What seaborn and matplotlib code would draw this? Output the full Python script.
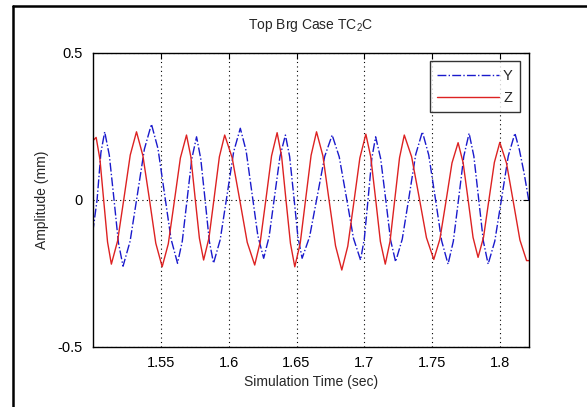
import matplotlib
matplotlib.use('Agg')
import matplotlib.pyplot as plt
from matplotlib.lines import Line2D
import pandas as pd
import seaborn as sns

# Z (red, solid)
z_time = [1.5000, 1.5025, 1.5053, 1.5081, 1.5109, 1.5137, 1.5183, 1.5230, 1.5276, 1.5322,
          1.5369, 1.5417, 1.5464, 1.5511, 1.5556, 1.5601, 1.5645, 1.5690, 1.5722, 1.5753,
          1.5785, 1.5816, 1.5855, 1.5894, 1.5932, 1.5971, 1.6026, 1.6082, 1.6137, 1.6192,
          1.6233, 1.6275, 1.6316, 1.6357, 1.6390, 1.6422, 1.6455, 1.6487, 1.6527, 1.6567,
          1.6607, 1.6647, 1.6694, 1.6740, 1.6787, 1.6833, 1.6877, 1.6922, 1.6966, 1.7010,
          1.7046, 1.7082, 1.7117, 1.7153, 1.7188, 1.7223, 1.7258, 1.7293, 1.7347, 1.7402,
          1.7456, 1.7510, 1.7555, 1.7600, 1.7644, 1.7689, 1.7726, 1.7763, 1.7799, 1.7836,
          1.7876, 1.7916, 1.7956, 1.7996, 1.8045, 1.8095, 1.8144, 1.8193, 1.8210]
z_amp = [0.200, 0.212, 0.137, -0.004, -0.144, -0.219, -0.140, 0.006, 0.152, 0.231,
         0.150, 0.002, -0.148, -0.228, -0.150, -0.004, 0.142, 0.220, 0.146, 0.008,
         -0.131, -0.205, -0.131, 0.008, 0.146, 0.220, 0.143, -0.001, -0.145, -0.222,
         -0.143, 0.003, 0.149, 0.228, 0.148, 0.000, -0.148, -0.228, -0.148, 0.002,
         0.151, 0.231, 0.149, -0.004, -0.157, -0.239, -0.158, -0.008, 0.142, 0.223,
         0.146, 0.002, -0.142, -0.219, -0.142, 0.001, 0.143, 0.220, 0.146, 0.009,
         -0.129, -0.203, -0.134, -0.005, 0.125, 0.194, 0.126, -0.001, -0.128, -0.196,
         -0.128, 0.000, 0.127, 0.195, 0.125, -0.006, -0.137, -0.207, -0.207]

# Y (blue, dash-dot)
y_time = [1.5000, 1.5032, 1.5060, 1.5088, 1.5122, 1.5156, 1.5189, 1.5223, 1.5275, 1.5328,
          1.5380, 1.5432, 1.5480, 1.5528, 1.5576, 1.5624, 1.5659, 1.5694, 1.5729, 1.5764,
          1.5795, 1.5827, 1.5858, 1.5889, 1.5938, 1.5988, 1.6037, 1.6086, 1.6129, 1.6172,
          1.6215, 1.6258, 1.6298, 1.6338, 1.6378, 1.6418, 1.6449, 1.6480, 1.6510, 1.6541,
          1.6596, 1.6652, 1.6707, 1.6762, 1.6814, 1.6867, 1.6919, 1.6971, 1.6999, 1.7027,
          1.7054, 1.7082, 1.7119, 1.7156, 1.7192, 1.7229, 1.7278, 1.7328, 1.7377, 1.7426,
          1.7473, 1.7521, 1.7568, 1.7615, 1.7654, 1.7693, 1.7731, 1.7770, 1.7805, 1.7840,
          1.7875, 1.7910, 1.7959, 1.8009, 1.8058, 1.8107, 1.8140, 1.8175, 1.8210]
y_amp = [-0.110, 0.000, 0.160, 0.231, 0.151, 0.003, -0.146, -0.226, -0.141, 0.016,
         0.172, 0.257, 0.174, 0.021, -0.133, -0.216, -0.141, -0.001, 0.139, 0.214,
         0.139, -0.001, -0.141, -0.216, -0.136, 0.014, 0.163, 0.243, 0.166, 0.022,
         -0.122, -0.199, -0.126, 0.011, 0.147, 0.220, 0.147, 0.011, -0.126, -0.199,
         -0.126, 0.011, 0.147, 0.220, 0.146, 0.008, -0.131, -0.205, -0.132, 0.005,
         0.141, 0.214, 0.140, 0.002, -0.137, -0.211, -0.134, 0.010, 0.154, 0.231,
         0.152, 0.006, -0.140, -0.219, -0.141, 0.004, 0.148, 0.226, 0.148, 0.004,
         -0.141, -0.219, -0.141, 0.004, 0.148, 0.226, 0.170, 0.090, -0.005]

x_ticks = [1.55, 1.6, 1.65, 1.7, 1.75, 1.8]
x_tick_labels = ['1.55', '1.6', '1.65', '1.7', '1.75', '1.8']
y_ticks = [-0.5, 0, 0.5]
y_tick_labels = ['-0.5', '0', '0.5']

df_y = pd.DataFrame({'t': y_time, 'amp': y_amp})
df_z = pd.DataFrame({'t': z_time, 'amp': z_amp})

sns.set_style('white')
plt.rcParams['font.family'] = ['Liberation Sans', 'DejaVu Sans']
plt.rcParams['mathtext.default'] = 'regular'

fig = plt.figure(figsize=(5.87, 4.07), dpi=100)
ax = fig.add_axes([0.158, 0.148, 0.743, 0.7225])

sns.lineplot(data=df_y, x='t', y='amp', ax=ax, color='#1a1acc', lw=1.0,
             linestyle='-.', label='Y', estimator=None, sort=False)
sns.lineplot(data=df_z, x='t', y='amp', ax=ax, color='#dd2222', lw=1.0,
             label='Z', estimator=None, sort=False)

ax.set_xlim(1.5, 1.821)
ax.set_ylim(-0.5, 0.5)
ax.set_xticks(x_ticks)
ax.set_xticklabels(x_tick_labels)
ax.set_yticks(y_ticks)
ax.set_yticklabels(y_tick_labels)
ax.grid(True, linestyle=(0, (1, 3)), color='k', lw=0.8)
ax.tick_params(direction='in', top=True, right=True, length=4, width=0.8,
               labelsize=10.5, pad=7, colors='k')
for s in ax.spines.values():
    s.set_color('k')
    s.set_linewidth(1.0)

ax.set_xlabel('Simulation Time (sec)', fontsize=10, labelpad=3)
ax.set_ylabel('Amplitude (mm)', fontsize=10, labelpad=6)
ax.set_title('Top Brg Case TC$_2$C', fontsize=10, pad=17)

leg = ax.legend(loc='upper right', fontsize=10.5, handlelength=4.2, frameon=True,
                fancybox=False, borderaxespad=0.6, handletextpad=0.3,
                labelspacing=0.55, borderpad=0.5)
leg.get_frame().set_edgecolor('k')
leg.get_frame().set_linewidth(1.0)

# outer frame of the original figure (left and top edges)
fig.add_artist(Line2D([12.5 / 587, 12.5 / 587], [0, 1 - 5.5 / 407], color='k', lw=1.8))
fig.add_artist(Line2D([12.5 / 587, 1], [1 - 5.5 / 407, 1 - 5.5 / 407], color='k', lw=1.8))

fig.savefig('out.png', dpi=100)
